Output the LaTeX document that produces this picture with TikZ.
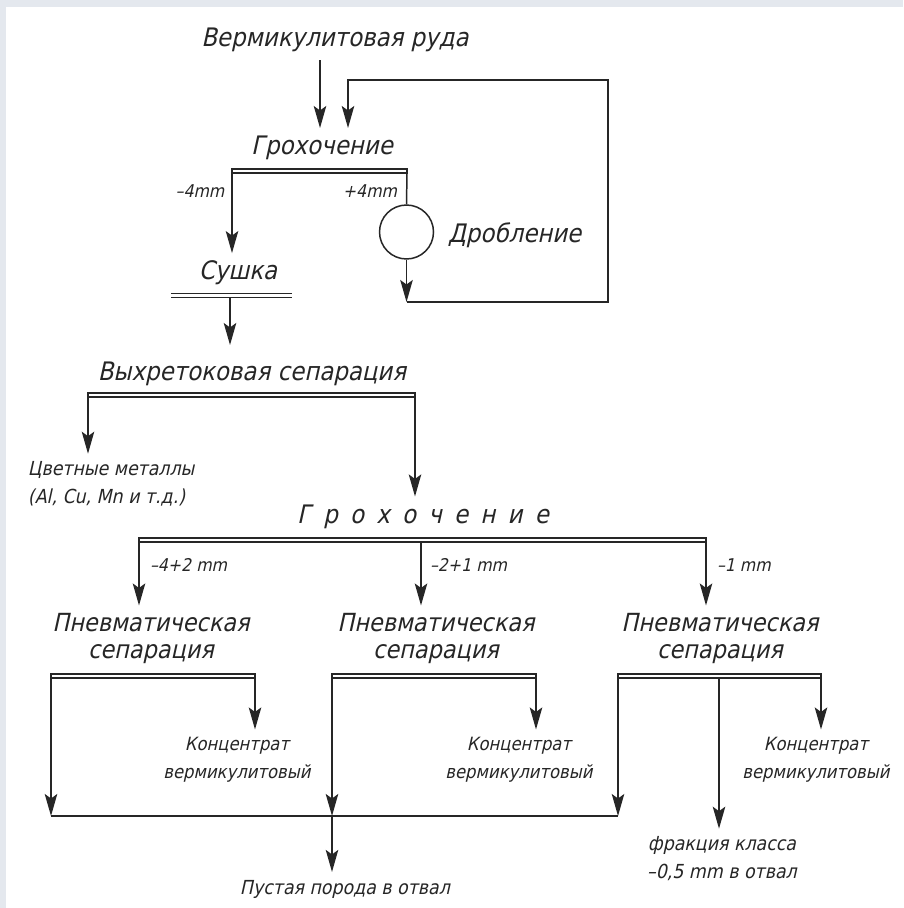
\documentclass[tikz,border=0pt]{standalone}
\usepackage{fontspec}
\setmainfont{DejaVu Sans Condensed}[FakeSlant=0.22]
\usetikzlibrary{arrows.meta}
\definecolor{ink}{HTML}{262626}
\definecolor{edge}{HTML}{E4E8EE}
\tikzset{
  flow/.style={draw=ink, line width=0.85pt, -{Stealth[length=0.44cm, width=0.25cm, inset=0.09cm]}},
  wire/.style={draw=ink, line width=0.85pt},
  bar/.style={draw=ink, line width=0.85pt, double=white, double distance=0.05cm},
  txt/.style={text=ink, inner sep=0pt, outer xsep=0pt, outer ysep=0.16cm},
  big/.style={txt, font=\fontsize{14.5}{17}\selectfont},
  spaced/.style={big, execute at begin node={\spaceskip=0.48em\relax}},
  pnv/.style={txt, align=center, font=\fontsize{14.2}{15}\selectfont},
  mid/.style={txt, align=center, font=\fontsize{10.4}{15.5}\selectfont},
  note/.style={txt, align=center, font=\fontsize{11}{15.5}\selectfont},
  lbl/.style={txt, font=\fontsize{10}{12}\selectfont},
  mill/.style={circle, draw=ink, line width=0.85pt, minimum size=1.08cm, inner sep=0pt},
}
\begin{document}
\begin{tikzpicture}[x=0.02cm, y=-0.02cm]
  \fill[edge] (0,0) rectangle (903,908);
  \fill[white] (6,7) rectangle (903,908);
  \useasboundingbox (0,0) rectangle (903,908);

  % upper part
  \node[big, anchor=base] (ore) at (335,47) {Вермикулитовая руда};
  \node[big, anchor=base] (screenA) at (322,155) {Грохочение};
  \node[lbl, anchor=base] (fineA) at (200,198) {–4mm};
  \node[lbl, anchor=base] (coarseA) at (370,198) {+4mm};
  \node[mill] (crusher) at (406.5,232) {};
  \node[big, anchor=base west] (crushtxt) at (448,243) {Дробление};
  \node[big, anchor=base] (dryer) at (238,280) {Сушка};
  \node[big, anchor=base] (eddy) at (252,380) {Выхретоковая сепарация};
  \node[note, align=left, anchor=base west] (metals) at (28,503) {Цветные металлы\\(Al, Cu, Mn и т.д.)};
  \node[spaced, anchor=base] (screenB) at (423,523) {Г р о х о ч е н и е};

  % lower part
  \node[lbl, anchor=base west] (cutA) at (150,571) {–4+2 mm};
  \node[lbl, anchor=base west] (cutB) at (430,571) {–2+1 mm};
  \node[lbl, anchor=base west] (cutC) at (717,571) {–1 mm};
  \node[pnv, anchor=base] (pneuA) at (151,658) {Пневматическая\\сепарация};
  \node[pnv, anchor=base] (pneuB) at (436,658) {Пневматическая\\сепарация};
  \node[pnv, anchor=base] (pneuC) at (720,658) {Пневматическая\\сепарация};
  \node[mid, anchor=base] (concA) at (237,778) {Концентрат\\вермикулитовый};
  \node[mid, anchor=base] (concB) at (519,778) {Концентрат\\вермикулитовый};
  \node[mid, anchor=base] (concC) at (816,778) {Концентрат\\вермикулитовый};
  \node[note, anchor=base] (fines) at (722,878) {фракция класса\\–0,5 mm в отвал};
  \node[note, anchor=base] (waste) at (345,894) {Пустая порода в отвал};

  % screen and crusher loop
  \coordinate (oreIn) at (320,128);
  \coordinate (loopA) at (608,302);
  \coordinate (loopB) at (348,80);
  \coordinate (scrAl) at (232,169);
  \coordinate (scrAr) at (407,173);
  \draw[flow] (oreIn |- ore.south) -- (oreIn);
  \draw[wire] (scrAl) rectangle (scrAr);
  \draw[flow] (scrAl) -- (scrAl |- dryer.north);
  \draw[wire] (scrAr) -- (crusher.north);
  \draw[flow] (crusher.south) -- (crusher |- loopA);
  \draw[flow] (crusher |- loopA) -- (loopA) -- (loopA |- loopB) -- (loopB) -- (loopB |- oreIn);

  % dryer and eddy current
  \coordinate (dryl) at (171,295.5);
  \coordinate (dryr) at (292,295.5);
  \coordinate (dryOut) at (230,298);
  \draw[bar] (dryl) -- (dryr);
  \draw[flow] (dryOut) -- ++(0,47);
  \coordinate (eddyl) at (88,393);
  \coordinate (eddyr) at (415,397);
  \draw[wire] (eddyl) rectangle (eddyr);
  \draw[flow] (eddyl) -- (eddyl |- metals.north);
  \draw[flow] (eddyr) -- (eddyr |- screenB.north);

  % second screen
  \coordinate (scrBl) at (139,538);
  \coordinate (scrBm) at (421,542);
  \coordinate (scrBr) at (706,542);
  \draw[wire] (scrBl) rectangle (scrBr);
  \draw[flow] (scrBl) -- (scrBl |- pneuA.north);
  \draw[flow] (scrBm) -- (scrBm |- pneuB.north);
  \draw[flow] (scrBr) -- (scrBr |- pneuC.north);

  % pneumatic separators
  \coordinate (pnAl) at (51,674);  \coordinate (pnAr) at (255,678);
  \coordinate (pnBl) at (332,674); \coordinate (pnBr) at (536,678);
  \coordinate (pnCl) at (618,674); \coordinate (pnCr) at (821,678);
  \coordinate (pnCm) at (719,678);
  \coordinate (dump) at (332,816);
  \draw[wire] (pnAl) rectangle (pnAr);
  \draw[wire] (pnBl) rectangle (pnBr);
  \draw[wire] (pnCl) rectangle (pnCr);
  \draw[flow] (pnAr) -- (pnAr |- concA.north);
  \draw[flow] (pnBr) -- (pnBr |- concB.north);
  \draw[flow] (pnCr) -- (pnCr |- concC.north);
  \draw[flow] (pnCm) -- (pnCm |- fines.north);
  \draw[flow] (pnAl) -- (pnAl |- dump);
  \draw[flow] (pnBl) -- (dump);
  \draw[flow] (pnCl) -- (pnCl |- dump);
  \draw[wire] (pnAl |- dump) -- (pnCl |- dump);
  \draw[flow] (dump) -- (dump |- waste.north);
\end{tikzpicture}
\end{document}
